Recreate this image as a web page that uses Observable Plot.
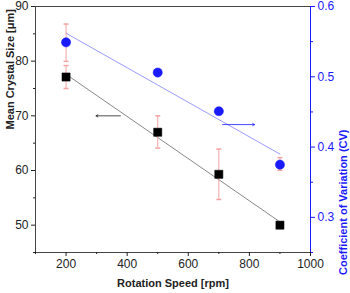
<!DOCTYPE html>
<html><head><meta charset="utf-8">
<script src="https://cdn.jsdelivr.net/npm/d3@7"></script>
<script src="https://cdn.jsdelivr.net/npm/@observablehq/plot@0.6"></script>
<style>
body{margin:0;background:#fff;}
svg{font-family:"Liberation Sans",Arial,sans-serif;}
</style></head><body><div id="chart"></div>
<script>
// Data
const speeds = [200, 500, 700, 900];
const sizeMean = [77.1, 67.0, 59.3, 50.0];
const sizeLow = [75.0, 64.1, 54.7, 49.6];
const sizeHigh = [79.2, 70.0, 63.9, 50.4];
const cv = [0.549, 0.506, 0.451, 0.375];
const cvLow = [0.522, 0.503, 0.449, 0.367];
const cvHigh = [0.575, 0.509, 0.453, 0.385];
const fitSpeeds = [200, 900];
const sizeFit = [77.6, 50.6];
const cvFit = [0.562, 0.390];
const xTicks = [200, 400, 600, 800, 1000];
const xMinor = [100, 300, 500, 700, 900];
const yTicks = [50, 60, 70, 80, 90];
const yMinor = [45, 55, 65, 75, 85];
const cvTicks = [0.3, 0.4, 0.5, 0.6];
const cvMinor = [0.25, 0.35, 0.45, 0.55];
const xDomain = [100, 1000];
const yDomain = [45, 90];
const cvDomain = [0.25, 0.6];
// arrows
const leftArrow = {x1: 378, x2: 298, y: 70};
const rightArrow = {x1: 712, x2: 817, cv: 0.432};

const toY = d3.scaleLinear().domain(cvDomain).range(yDomain);
const blue = "#1a1aff";
const pink = "#f4a3a3";

const sq = speeds.map((s, i) => ({s, m: sizeMean[i], lo: sizeLow[i], hi: sizeHigh[i]}));
const ci = speeds.map((s, i) => ({s, m: toY(cv[i]), lo: toY(cvLow[i]), hi: toY(cvHigh[i])}));
const fitS = fitSpeeds.map((s, i) => ({s, y: sizeFit[i]}));
const fitC = fitSpeeds.map((s, i) => ({s, y: toY(cvFit[i])}));

const cap = {draw(ctx) { ctx.moveTo(-2.5, 0); ctx.lineTo(2.5, 0); }};

const chart = Plot.plot({
  width: 350, height: 293,
  marginLeft: 35, marginRight: 40, marginTop: 6, marginBottom: 41,
  style: {fontSize: "12px", fontFamily: "Liberation Sans, Arial, sans-serif", color: "#222"},
  x: {domain: xDomain},
  y: {domain: yDomain},
  marks: [
    Plot.frame({stroke: "#444"}),
    Plot.axisX({ticks: xTicks, tickFormat: d => String(d), tickSize: 4, tickPadding: 3, fontSize: 12, label: null}),
    Plot.axisX({ticks: xMinor, tickSize: 2, tickFormat: () => "", label: null}),
    Plot.text(["Rotation Speed [rpm]"], {frameAnchor: "bottom", dy: 34, fontWeight: "bold", fontSize: 11}),
    Plot.axisY({ticks: yTicks, tickSize: 4, tickPadding: 3, fontSize: 12, label: null}),
    Plot.axisY({ticks: yMinor, tickSize: 2, tickFormat: () => "", label: null}),
    Plot.text(["Mean Crystal Size [μm]"], {frameAnchor: "left", dx: -25, rotate: -90, fontWeight: "bold", fontSize: 11}),
    Plot.ruleX([xDomain[1]], {stroke: blue}),
    Plot.axisY({anchor: "right", ticks: cvTicks.map(toY), tickFormat: d => toY.invert(d).toFixed(1), tickSize: 4, tickPadding: 3, fontSize: 12, color: blue, label: null}),
    Plot.axisY({anchor: "right", ticks: cvMinor.map(toY), tickFormat: () => "", tickSize: 2, color: blue, label: null}),
    Plot.text(["Coefficient of Variation (CV)"], {frameAnchor: "right", dx: 33, rotate: -90, fontWeight: "bold", fontSize: 11, fill: blue}),
    // fit lines
    Plot.line(fitS, {x: "s", y: "y", stroke: "#888", strokeWidth: 1}),
    Plot.line(fitC, {x: "s", y: "y", stroke: "#9b9bff", strokeWidth: 1}),
    // error bars
    Plot.ruleX(sq, {x: "s", y1: "lo", y2: "hi", stroke: pink, strokeWidth: 1}),
    Plot.dot(sq, {x: "s", y: "lo", symbol: cap, r: 3, stroke: pink, fill: "none"}),
    Plot.dot(sq, {x: "s", y: "hi", symbol: cap, r: 3, stroke: pink, fill: "none"}),
    Plot.ruleX(ci, {x: "s", y1: "lo", y2: "hi", stroke: pink, strokeWidth: 1}),
    Plot.dot(ci, {x: "s", y: "lo", symbol: cap, r: 3, stroke: pink, fill: "none"}),
    Plot.dot(ci, {x: "s", y: "hi", symbol: cap, r: 3, stroke: pink, fill: "none"}),
    // points
    Plot.dot(sq, {x: "s", y: "m", symbol: "square", r: 4.6, fill: "#000", stroke: "#000", strokeWidth: 0.5}),
    Plot.dot(ci, {x: "s", y: "m", symbol: "circle", r: 4.6, fill: blue, stroke: blue, strokeWidth: 0.5}),
    // arrows
    Plot.arrow([leftArrow], {x1: "x1", x2: "x2", y1: "y", y2: "y", stroke: "#222", strokeWidth: 0.8, headLength: 4}),
    Plot.arrow([rightArrow], {x1: "x1", x2: "x2", y1: d => toY(d.cv), y2: d => toY(d.cv), stroke: blue, strokeWidth: 0.8, headLength: 4})
  ]
});
document.getElementById("chart").appendChild(chart);
</script></body></html>
